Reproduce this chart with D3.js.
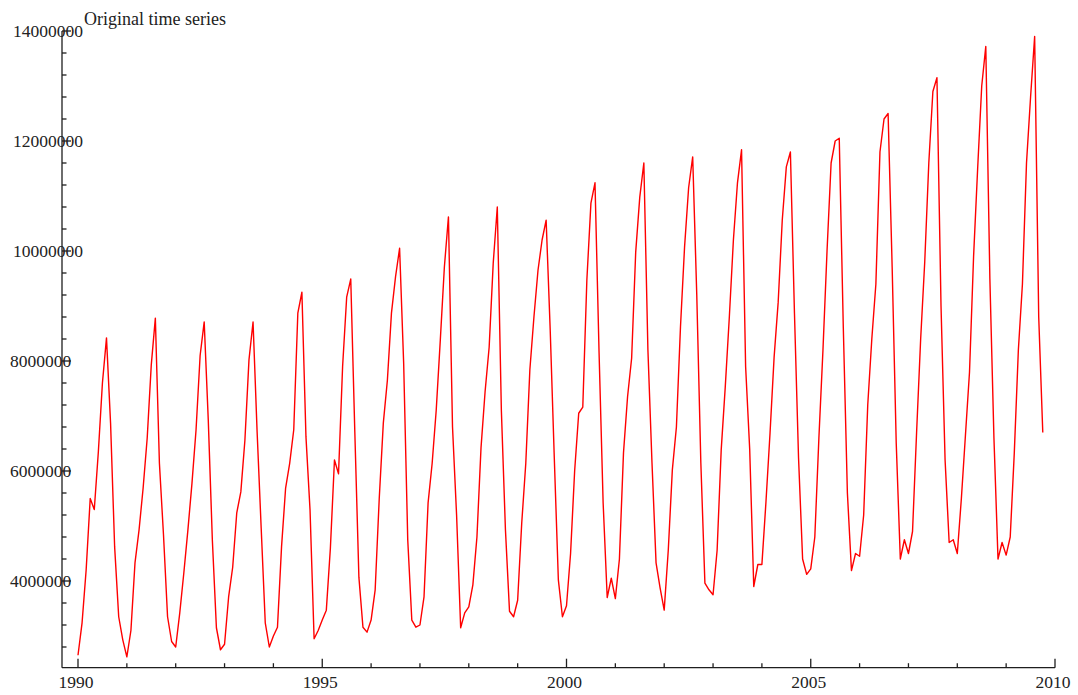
<!DOCTYPE html>
<html><head><meta charset="utf-8">
<script src="https://cdn.jsdelivr.net/npm/d3@7"></script>
<style>html,body{margin:0;padding:0;background:#fff;} svg{display:block;}</style>
</head><body>
<svg id="chart" width="1078" height="695"></svg>
<script>
// ---- data (monthly values, Jan 1990 - Oct 2009) ----
const chartTitle = "Original time series";
const v1990 = [2650000, 3240000, 4200000, 5500000, 5300000, 6350000, 7600000, 8420000, 6870000, 4620000, 3350000, 2930000];
const v1991 = [2620000, 3100000, 4330000, 4930000, 5690000, 6600000, 7930000, 8780000, 6140000, 4840000, 3350000, 2900000];
const v1992 = [2800000, 3420000, 4150000, 4930000, 5780000, 6750000, 8100000, 8710000, 6930000, 4750000, 3150000, 2750000];
const v1993 = [2850000, 3710000, 4250000, 5240000, 5620000, 6560000, 8020000, 8710000, 6710000, 4960000, 3240000, 2800000];
const v1994 = [3000000, 3160000, 4620000, 5690000, 6140000, 6750000, 8870000, 9250000, 6620000, 5290000, 2950000, 3100000];
const v1995 = [3290000, 3470000, 4600000, 6200000, 5950000, 7900000, 9160000, 9490000, 6710000, 4070000, 3160000, 3070000];
const v1996 = [3290000, 3840000, 5500000, 6870000, 7650000, 8870000, 9530000, 10050000, 7960000, 4750000, 3290000, 3160000];
const v1997 = [3200000, 3710000, 5420000, 6140000, 7110000, 8380000, 9710000, 10620000, 6800000, 5200000, 3150000, 3420000];
const v1998 = [3530000, 3930000, 4800000, 6420000, 7440000, 8250000, 9780000, 10800000, 7100000, 4930000, 3450000, 3350000];
const v1999 = [3650000, 5050000, 6140000, 7840000, 8800000, 9650000, 10200000, 10560000, 8560000, 6240000, 4020000, 3350000];
const v2000 = [3550000, 4500000, 6000000, 7050000, 7160000, 9470000, 10870000, 11240000, 8150000, 5420000, 3700000, 4050000];
const v2001 = [3680000, 4400000, 6330000, 7350000, 8050000, 9980000, 10980000, 11600000, 8200000, 6150000, 4330000, 3870000];
const v2002 = [3470000, 4560000, 6020000, 6800000, 8620000, 10070000, 11150000, 11710000, 9200000, 6150000, 3960000, 3840000];
const v2003 = [3750000, 4560000, 6380000, 7530000, 8800000, 10200000, 11240000, 11840000, 7900000, 6400000, 3900000, 4300000];
const v2004 = [4300000, 5440000, 6690000, 8070000, 9070000, 10560000, 11530000, 11800000, 8870000, 6240000, 4400000, 4120000];
const v2005 = [4220000, 4800000, 6600000, 8200000, 10000000, 11600000, 12000000, 12050000, 8600000, 5600000, 4190000, 4500000];
const v2006 = [4450000, 5200000, 7200000, 8400000, 9400000, 11800000, 12400000, 12500000, 9700000, 6500000, 4400000, 4750000];
const v2007 = [4500000, 4900000, 6700000, 8400000, 9800000, 11600000, 12900000, 13150000, 9000000, 6200000, 4700000, 4750000];
const v2008 = [4500000, 5500000, 6650000, 7800000, 9900000, 11500000, 13000000, 13720000, 9500000, 6600000, 4400000, 4700000];
const v2009 = [4470000, 4800000, 6330000, 8200000, 9400000, 11600000, 12800000, 13900000, 8800000, 6700000];
const firstYear = 1990;
const yearlyValues = [v1990, v1991, v1992, v1993, v1994, v1995, v1996, v1997, v1998, v1999,
                      v2000, v2001, v2002, v2003, v2004, v2005, v2006, v2007, v2008, v2009];

const xMajorTicks = [1990, 1995, 2000, 2005, 2010];
const xTickLabels = ["1990", "1995", "2000", "2005", "2010"];
const yMajorTicks = [4000000, 6000000, 8000000, 10000000, 12000000, 14000000];
const yTickLabels = ["4000000", "6000000", "8000000", "10000000", "12000000", "14000000"];

// ---- build series ----
const points = [];
yearlyValues.forEach((arr, yi) => arr.forEach((v, m) => points.push({t: firstYear + yi + m / 12, v})));

// ---- layout ----
const svg = d3.select("#chart");
const x = d3.scaleLinear().domain([1990, 2010]).range([78, 1055]);
const y = d3.scaleLinear().domain([4000000, 14000000]).range([581, 31]);
const frameLeft = 62, frameBottom = 667.7, frameRight = 1055, frameTop = 31;
const font = "'Liberation Serif','Times New Roman',serif";
const axisColor = "#1e1e1e";

// line
svg.append("path")
  .datum(points)
  .attr("fill", "none")
  .attr("stroke", "#ff0000")
  .attr("stroke-width", 1.4)
  .attr("stroke-linejoin", "round")
  .attr("d", d3.line().x(d => x(d.t)).y(d => y(d.v)));

const ax = svg.append("g").attr("stroke", axisColor).attr("stroke-width", 1.3);
// axes lines
ax.append("line").attr("x1", frameLeft).attr("x2", frameRight).attr("y1", frameBottom).attr("y2", frameBottom);
ax.append("line").attr("x1", frameLeft).attr("x2", frameLeft).attr("y1", frameBottom).attr("y2", frameTop);

// x ticks
const xMinor = d3.range(1990, 2011).filter(t => !xMajorTicks.includes(t));
ax.selectAll(".xmaj").data(xMajorTicks).join("line")
  .attr("x1", d => x(d)).attr("x2", d => x(d)).attr("y1", frameBottom).attr("y2", frameBottom - 9);
ax.selectAll(".xmin").data(xMinor).join("line")
  .attr("x1", d => x(d)).attr("x2", d => x(d)).attr("y1", frameBottom).attr("y2", frameBottom - 4.5);

// y ticks
const yMinor = d3.range(2800000, 14000001, 400000).filter(v => !yMajorTicks.includes(v));
ax.selectAll(".ymaj").data(yMajorTicks).join("line")
  .attr("x1", frameLeft).attr("x2", frameLeft + 9).attr("y1", d => y(d)).attr("y2", d => y(d));
ax.selectAll(".ymin").data(yMinor).join("line")
  .attr("x1", frameLeft).attr("x2", frameLeft + 4.5).attr("y1", d => y(d)).attr("y2", d => y(d));

// tick labels
svg.selectAll(".xl").data(xMajorTicks).join("text")
  .attr("x", d => x(d) - 2).attr("y", 688)
  .attr("text-anchor", "middle")
  .attr("font-family", font).attr("font-size", 17.5).attr("fill", "#222")
  .text((d, i) => xTickLabels[i]);

svg.selectAll(".yl").data(yMajorTicks).join("text")
  .attr("x", (d, i) => 10 + (yTickLabels[i].length - 7) * 3)
  .attr("y", d => y(d))
  .attr("dy", "0.35em")
  .attr("text-anchor", "start")
  .attr("font-family", font).attr("font-size", 17.5).attr("fill", "#222")
  .text((d, i) => yTickLabels[i]);

// title
svg.append("text")
  .attr("x", 84).attr("y", 25)
  .attr("font-family", font).attr("font-size", 18).attr("fill", "#222")
  .text(chartTitle);
</script>
</body></html>
